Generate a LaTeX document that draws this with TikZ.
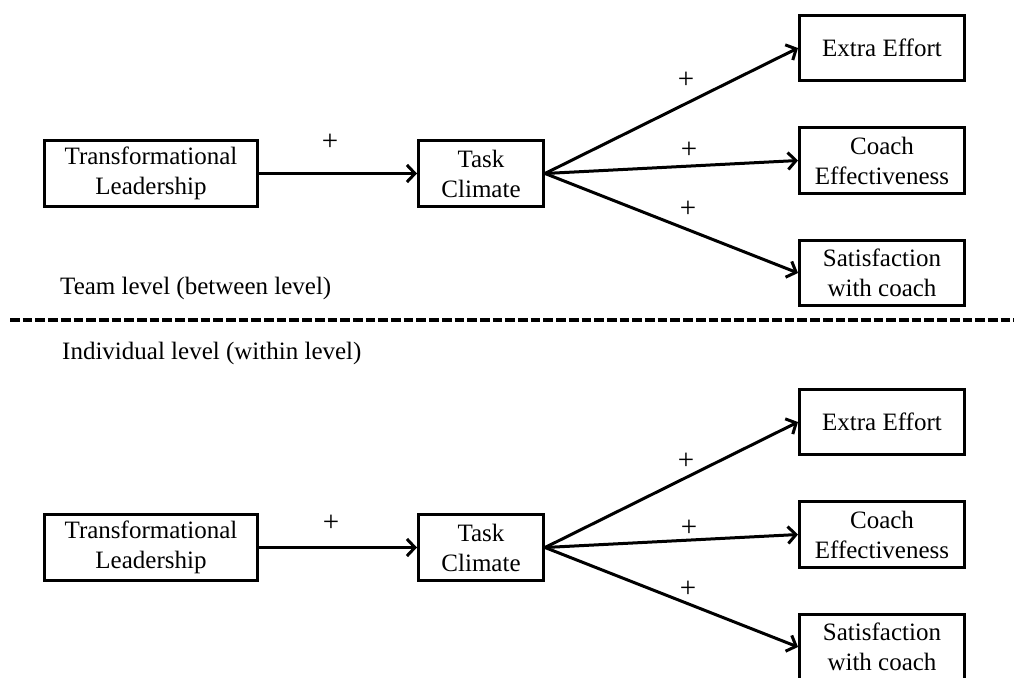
\documentclass[tikz,border=0pt]{standalone}
\usepackage{fontspec}
\setmainfont{Liberation Serif}
\usetikzlibrary{arrows.meta}
\newcommand*\drawModel[2]{%
    % #1: name prefix
    % #2: vertical shift (px)
    \begin{scope}[shift={(0,#2)}]
    \node[box,minimum width=213,minimum height=66] (#1-tl) at (151,173.5) {Transformational\\Leadership};
    \node[box,minimum width=125,minimum height=66] (#1-tc) at (481,173.5) {Task\\Climate};
    \node[box,minimum width=165,minimum height=65] (#1-ee) at (882,48) {Extra Effort};
    \node[box,minimum width=165,minimum height=66] (#1-ce) at (882,160.5) {Coach\\Effectiveness};
    \node[box,minimum width=165,minimum height=65] (#1-sc) at (882,273) {Satisfaction\\with coach};
    \draw[path] (#1-tl) -- (#1-tc);
    \draw[path] (#1-tc.east) -- (#1-ee.west);
    \draw[path] (#1-tc.east) -- (#1-ce.west);
    \draw[path] (#1-tc.east) -- (#1-sc.west);
    \end{scope}
}

\begin{document}
\begin{tikzpicture}[x=1pt,y=-1pt,
    every node/.style={font=\fontsize{25}{30}\selectfont},
    box/.style={draw,line width=3pt,align=center,inner sep=0pt},
    path/.style={line width=3pt,-{Straight Barb[length=8pt,width=17pt,line width=3pt]}},
    sign/.style={inner sep=0pt,font=\fontsize{29}{30}\selectfont}]
    \useasboundingbox (0,0) rectangle (1014,677);
    \drawModel{team}{0}
    \drawModel{ind}{374}
    % signs on the paths
    \node[sign] (team-s1) at (330,142) {+};
    \node[sign] (team-s2) at (686,80) {+};
    \node[sign] (team-s3) at (689,150) {+};
    \node[sign] (team-s4) at (688,209) {+};
    \node[sign] (ind-s1) at (331,523) {+};
    \node[sign] (ind-s2) at (686,461) {+};
    \node[sign] (ind-s3) at (689,528) {+};
    \node[sign] (ind-s4) at (688,589) {+};
    % levels
    \node[anchor=west,inner sep=0pt] (team-lbl) at (60,288) {Team level (between level)};
    \node[anchor=west,inner sep=0pt] (ind-lbl) at (62,353) {Individual level (within level)};
    \coordinate (split-l) at (10,320);
    \coordinate (split-r) at (1014,320);
    \draw[line width=3.2pt,dash pattern=on 9.7pt off 3pt] (split-l) -- (split-r);
\end{tikzpicture}
\end{document}
